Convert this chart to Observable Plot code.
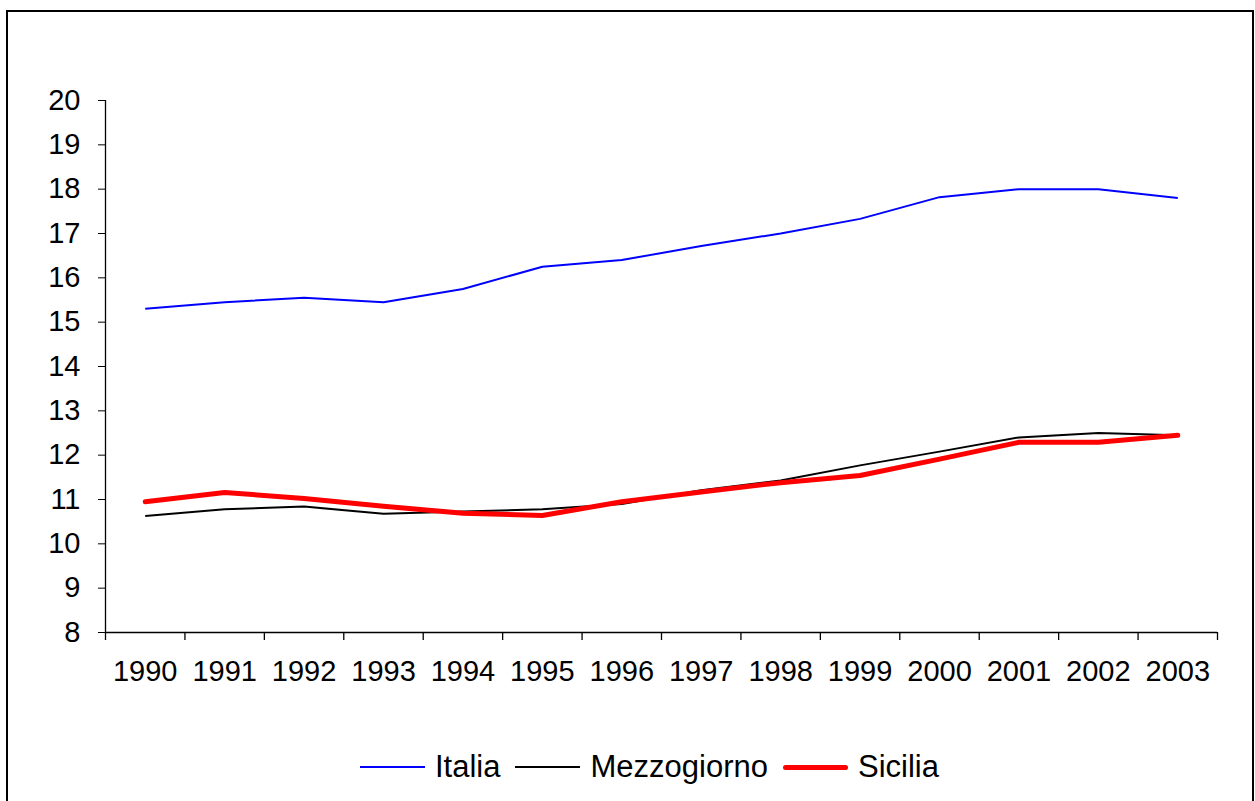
<!DOCTYPE html>
<html><head><meta charset="utf-8">
<script src="https://cdn.jsdelivr.net/npm/d3@7"></script>
<script src="https://cdn.jsdelivr.net/npm/@observablehq/plot@0.6"></script>
<style>
body{margin:0;background:#fff;font-family:"Liberation Sans",Arial,sans-serif;}
#frame{position:absolute;left:6px;top:10px;width:1244px;height:800px;border:2px solid #000;background:#fff;}
#chart{position:absolute;left:0;top:0;}
#legend{position:absolute;top:735px;left:352px;height:40px;display:flex;align-items:center;font-size:31px;color:#000;white-space:nowrap;}
#legend .sw{width:65px;margin-right:10px;}
#legend .lb{margin-right:15px;}
</style></head>
<body>
<div id="frame"><div id="chart"></div><div id="legend"></div></div>
<script>
const years = [1990,1991,1992,1993,1994,1995,1996,1997,1998,1999,2000,2001,2002,2003];
const italia = [15.3,15.45,15.55,15.45,15.75,16.25,16.4,16.72,17.0,17.33,17.82,18.0,18.0,17.8];
const mezzogiorno = [10.63,10.78,10.84,10.68,10.73,10.78,10.9,11.21,11.43,11.77,12.08,12.4,12.5,12.45];
const sicilia = [10.95,11.16,11.02,10.85,10.69,10.64,10.95,11.17,11.38,11.54,11.91,12.29,12.29,12.45];
const seriesNames = ["Italia","Mezzogiorno","Sicilia"];
const seriesColors = ["#0000ff","#000000","#ff0000"];
const seriesWidths = [2,2,5];
const yTicks = [8,9,10,11,12,13,14,15,16,17,18,19,20];

const seriesValues = [italia, mezzogiorno, sicilia];
const tables = seriesValues.map(vals => years.map((yr,i)=>({year:yr, value:vals[i]})));
const bounds = years.map(y=>y-0.5).concat([years[years.length-1]+0.5]);
const xDomain = [bounds[0], bounds[bounds.length-1]];

const chart = Plot.plot({
  width: 1244, height: 700,
  marginLeft: 97, marginTop: 88, marginRight: 35, marginBottom: 80,
  style: {fontFamily: '"Liberation Sans", Arial, sans-serif', fontSize: "29px", color: "#000", background: "#fff"},
  x: {type: "linear", domain: xDomain, label: null},
  y: {type: "linear", domain: [yTicks[0], yTicks[yTicks.length-1]], label: null},
  marks: [
    Plot.axisY({ticks: yTicks, tickSize: 7, tickPadding: 18, tickFormat: d=>String(d), label: null, stroke:"#000"}),
    Plot.axisX({ticks: years, tickSize: 0, tickPadding: 28, tickFormat: d=>String(d), label: null}),
    Plot.axisX({ticks: bounds, tickSize: 8, tickFormat: ()=>"", label: null, stroke:"#000", strokeWidth:1.3}),
    Plot.ruleY([yTicks[0]], {x1: xDomain[0], x2: xDomain[1], stroke:"#000", strokeWidth:1.3}),
    Plot.ruleX([xDomain[0]], {y1: yTicks[0], y2: yTicks[yTicks.length-1], stroke:"#000", strokeWidth:1.3}),
    ...tables.map((t,i)=>Plot.line(t, {x:"year", y:"value", stroke: seriesColors[i], strokeWidth: seriesWidths[i], strokeLinejoin:"round", strokeLinecap: i===2?"round":"butt"}))
  ]
});
document.getElementById("chart").appendChild(chart);

const legend = d3.select("#legend");
seriesNames.forEach((n,i)=>{
  legend.append("div").attr("class","sw")
    .style("height", seriesWidths[i]+"px").style("background", seriesColors[i])
    .style("border-radius", i===2?"3px":"0");
  legend.append("div").attr("class","lb").text(n);
});
</script>
</body></html>
